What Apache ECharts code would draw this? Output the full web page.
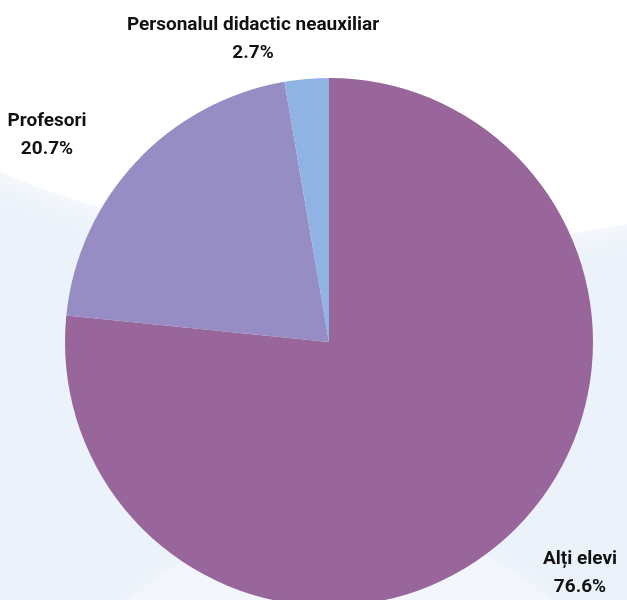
<!DOCTYPE html>
<html>
<head>
<meta charset="utf-8">
<script src="https://cdn.jsdelivr.net/npm/echarts@6/dist/echarts.min.js"></script>
<style>
html,body{margin:0;padding:0;background:#ffffff;}
#chart{width:627px;height:600px;}
</style>
</head>
<body>
<div id="chart"></div>
<script>
var categories = ['Alți elevi', 'Profesori', 'Personalul didactic neauxiliar'];
var values = [76.6, 20.7, 2.7];
var colors = ['#98669A', '#968DC4', '#8FB4E4'];

var labelPos = [
  {x: 580, y: 573},
  {x: 47, y: 135},
  {x: 253, y: 39}
];

var chart = echarts.init(document.getElementById('chart'), null, {renderer: 'canvas'});
chart.setOption({
  backgroundColor: '#EBF2FA',
  animation: false,
  graphic: [
    {type: 'ellipse', z: -10, silent: true,
     shape: {cx: 400, cy: 0, rx: 560, ry: 245},
     style: {fill: '#ffffff', shadowBlur: 40, shadowColor: '#ffffff'}},
    {type: 'ellipse', z: -10, silent: true,
     shape: {cx: 340, cy: 780, rx: 290, ry: 260},
     style: {fill: '#F3F7FD', shadowBlur: 20, shadowColor: '#F3F7FD'}}
  ],
  series: [{
    type: 'pie',
    center: [329, 342],
    radius: 264,
    startAngle: 90,
    clockwise: true,
    data: categories.map(function (c, i) {
      return {name: c, value: values[i], itemStyle: {color: colors[i]}};
    }),
    label: {
      show: true,
      position: 'outside',
      formatter: '{b}\n{d}%',
      color: '#111111',
      fontFamily: 'Roboto',
      fontWeight: 'bold',
      fontSize: 19,
      lineHeight: 28,
      align: 'center',
      overflow: 'none'
    },
    labelLine: {show: false},
    labelLayout: function (p) {
      var lp = labelPos[p.dataIndex];
      return {x: lp.x, y: lp.y, align: 'center', verticalAlign: 'middle'};
    },
    emphasis: {disabled: true}
  }]
});
</script>
</body>
</html>
